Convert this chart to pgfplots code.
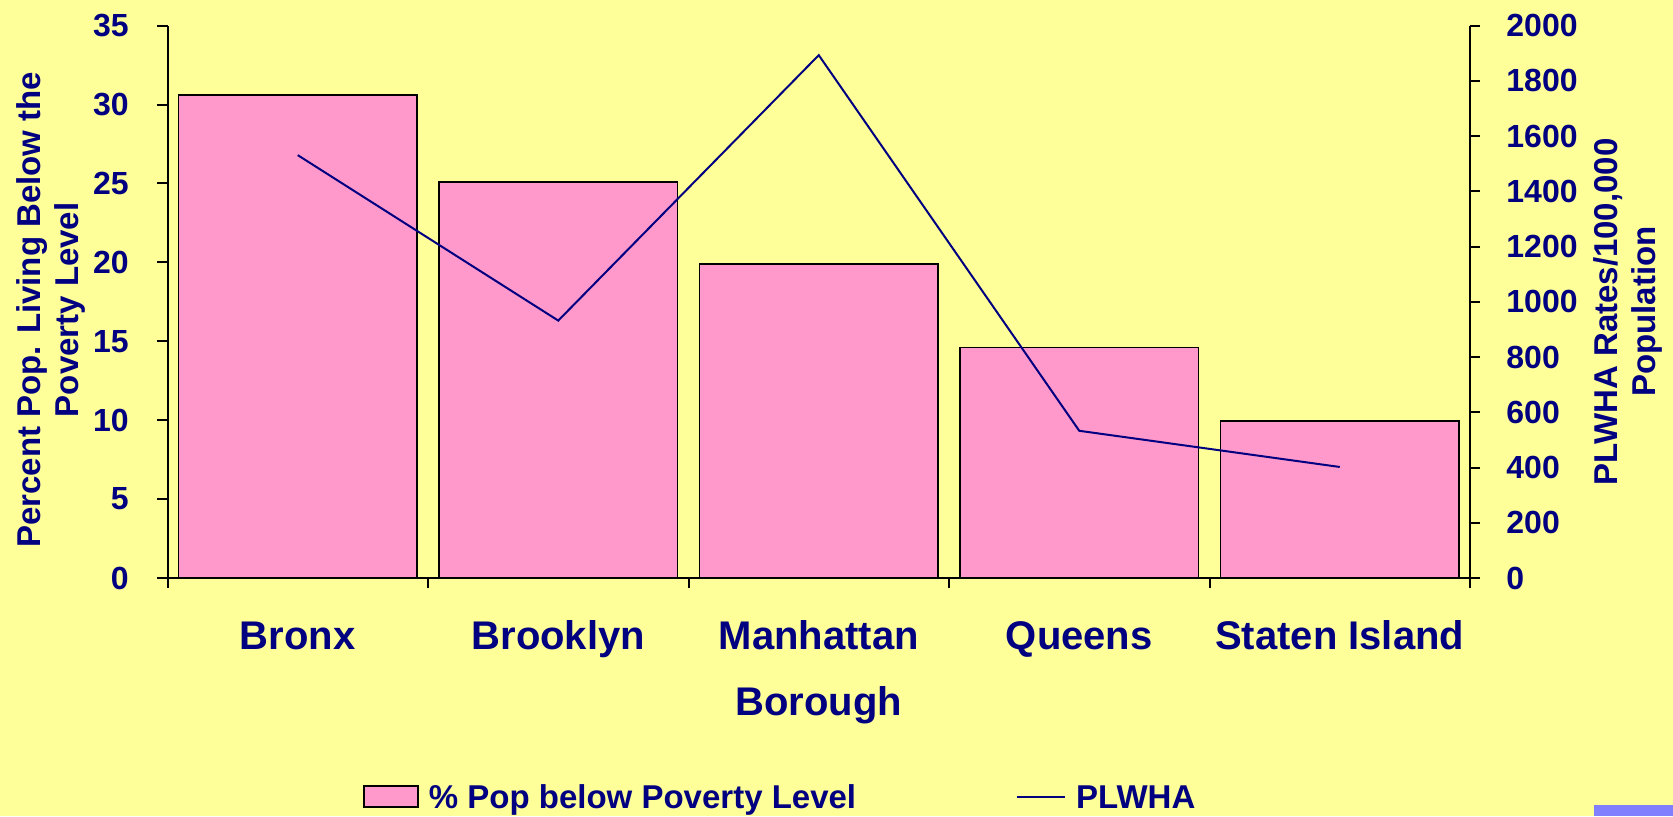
\documentclass[border=0pt]{standalone}
\usepackage{pgfplots}
\pgfplotsset{compat=1.18}
\usepackage{fontspec}
\setmainfont{Liberation Sans}
\definecolor{bgyellow}{HTML}{FFFF99}
\definecolor{barpink}{HTML}{FF99CC}
\definecolor{navy}{HTML}{000080}
\definecolor{cornerblue}{HTML}{8080FF}
\pgfplotsset{
  boxlegend/.style={legend image code/.code={\draw[##1] (0pt,0.65pt) rectangle (27pt,11.15pt);}},
  linelegend/.style={legend image code/.code={\draw[##1] (0pt,5.9pt) -- (24pt,5.9pt);}},
  common/.style={
    at={(83.75pt,119pt)}, anchor=south west,
    scale only axis, width=651.25pt, height=276.2pt,
    xmin=-0.5, xmax=4.5,
    axis line style={-, black, line width=1pt},
    tick align=outside,
    major tick length=5pt,
    tick style={black, line width=1pt},
    /pgf/number format/assume math mode=true,
    /pgf/number format/1000 sep={},
    ticklabel style={font=\fontsize{16}{18}\selectfont\bfseries, text=navy},
    label style={font=\fontsize{16.5}{19}\selectfont\bfseries, text=navy, align=center},
  }
}
\begin{document}
\begin{tikzpicture}
\useasboundingbox (0,0) rectangle (836.5pt,408pt);
\fill[bgyellow] (0,0) rectangle (836.5pt,408pt);
\fill[cornerblue] (797pt,0) rectangle (836.5pt,5.5pt);

\begin{axis}[
  common,
  ymin=0, ymax=35,
  axis y line*=left, axis x line*=bottom,
  xtick={-0.5,0.5,1.5,2.5,3.5,4.5}, xticklabels={},
  extra x ticks={0,1,2,3,4},
  extra x tick labels={Bronx,Brooklyn,Manhattan,Queens,Staten Island},
  extra x tick style={major tick length=0pt,
    xticklabel style={font=\fontsize{20}{24}\selectfont\bfseries, text=navy, anchor=base, yshift=-35.7pt, inner sep=0pt}},
  ytick={0,5,...,35},
  yticklabel style={anchor=east, inner sep=0pt, xshift=-14.25pt},
  ylabel={Percent Pop. Living Below the\\Poverty Level},
  ylabel style={at={(axis description cs:-0.0894,0.4855)}, anchor=center},
  xlabel={Borough},
  xlabel style={at={(axis description cs:0.5,0)}, anchor=base, yshift=-68.7pt, font=\fontsize{20}{24}\selectfont\bfseries},
]
\addplot[ybar, bar width=0.914, fill=barpink, draw=black, line width=0.75pt]
  coordinates {(0,30.6) (1,25.1) (2,19.9) (3,14.6) (4,9.95)};
\end{axis}

\begin{axis}[
  common,
  ymin=0, ymax=2000,
  axis y line*=right, axis x line=none,
  ytick={0,200,...,2000},
  yticklabel style={anchor=west, inner sep=0pt, xshift=13pt},
  ylabel={PLWHA Rates/100,000\\Population},
  ylabel style={at={(axis description cs:1.121,0.482)}, anchor=center},
  legend columns=2,
  legend style={at={(axis description cs:0.150,-0.398)}, anchor=west,
    draw=none, fill=none, inner sep=0pt, outer sep=0pt,
    font=\fontsize{16.5}{19}\selectfont\bfseries, text=navy,
    cells={anchor=base west},
    nodes={inner sep=0pt},
    /tikz/every odd column/.append style={column sep=5pt},
    /tikz/every even column/.append style={column sep=80pt}},
]
\addlegendimage{boxlegend, fill=barpink, draw=black, line width=1pt}
\addlegendentry{\% Pop below Poverty Level}
\addplot[linelegend, navy, line width=1pt]
  coordinates {(0,1531) (1,932) (2,1893) (3,533) (4,402)};
\addlegendentry{PLWHA}
\end{axis}
\end{tikzpicture}
\end{document}
